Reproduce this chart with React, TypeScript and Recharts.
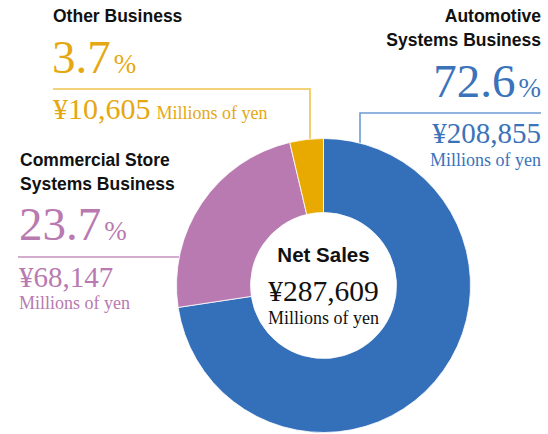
import React from 'react';
import { PieChart, Pie, Cell } from 'recharts';

// segments, clockwise from 12 o'clock
const segments = ['Automotive Systems Business', 'Commercial Store Systems Business', 'Other Business'];
const salesMillions = [208855, 68147, 10605];
const shares = ['72.6', '23.7', '3.7'];
const sliceColors = ['#3470B9', '#B87AB0', '#E8A900'];
const leaderColors = ['#6E9BD2', '#C590BE', '#F0C34F'];
const textColors = ['#3A73BA', '#B87AB0', '#E5A811'];
const totalLabel = 'Net Sales';
const totalSales = 287609;
const unitLabel = 'Millions of yen';

const pieData = segments.map((name, i) => ({ name, value: salesMillions[i] }));

const SANS = '"Liberation Sans", Arial, sans-serif';
const SERIF = '"Liberation Serif", "Times New Roman", serif';
const yen = (v: number) => '¥' + v.toLocaleString('en-US');

function Share({ x, y, i, anchor }: { x: number; y: number; i: number; anchor: 'start' | 'end' }) {
  return (
    <text x={x} y={y} textAnchor={anchor} fontFamily={SERIF} fill={textColors[i]}>
      <tspan fontSize={47}>{shares[i]}</tspan>
      <tspan fontSize={27} dx={3}>%</tspan>
    </text>
  );
}

export default function App() {
  return (
    <div style={{ position: 'absolute', left: 0, top: 0, width: 548, height: 434, background: '#fff' }}>
      {/* labels and leader lines, drawn behind the donut */}
      <svg width={548} height={434} style={{ position: 'absolute', left: 0, top: 0 }}>
        {/* Automotive */}
        <polyline points="541,113 360,113 360,160" fill="none" stroke={leaderColors[0]} strokeWidth={1.6} />
        <text x={541} y={22} textAnchor="end" fontFamily={SANS} fontWeight="bold" fontSize={17.5} fill="#111">Automotive</text>
        <text x={541} y={46} textAnchor="end" fontFamily={SANS} fontWeight="bold" fontSize={17.5} fill="#111">Systems Business</text>
        <Share x={541} y={97} i={0} anchor="end" />
        <text x={541} y={143} textAnchor="end" fontFamily={SERIF} fontSize={29} fill={textColors[0]}>{yen(salesMillions[0])}</text>
        <text x={541} y={166} textAnchor="end" fontFamily={SERIF} fontSize={18} fill={textColors[0]}>{unitLabel}</text>

        {/* Commercial Store */}
        <line x1={18} y1={257} x2={200} y2={257} stroke={leaderColors[1]} strokeWidth={1.6} />
        <text x={20} y={166} fontFamily={SANS} fontWeight="bold" fontSize={17.5} fill="#111">Commercial Store</text>
        <text x={20} y={190} fontFamily={SANS} fontWeight="bold" fontSize={17.5} fill="#111">Systems Business</text>
        <Share x={19} y={240} i={1} anchor="start" />
        <text x={19} y={287} fontFamily={SERIF} fontSize={29} fill={textColors[1]}>{yen(salesMillions[1])}</text>
        <text x={19} y={309} fontFamily={SERIF} fontSize={18} fill={textColors[1]}>{unitLabel}</text>

        {/* Other */}
        <polyline points="53,89 310,89 310,160" fill="none" stroke={leaderColors[2]} strokeWidth={1.6} />
        <text x={53} y={22} fontFamily={SANS} fontWeight="bold" fontSize={17.5} fill="#111">Other Business</text>
        <Share x={52} y={73} i={2} anchor="start" />
        <text x={53} y={119} fontFamily={SERIF} fill={textColors[2]}>
          <tspan fontSize={30}>{yen(salesMillions[2])}</tspan>
          <tspan fontSize={18} dx={6}>{unitLabel}</tspan>
        </text>

        {/* centre */}
        <text x={323.5} y={262} textAnchor="middle" fontFamily={SANS} fontWeight="bold" fontSize={20.5} fill="#111">{totalLabel}</text>
        <text x={323.5} y={301} textAnchor="middle" fontFamily={SERIF} fontSize={29.5} fill="#111">{yen(totalSales)}</text>
        <text x={323.5} y={324} textAnchor="middle" fontFamily={SERIF} fontSize={18} fill="#111">{unitLabel}</text>
      </svg>

      <div style={{ position: 'absolute', left: 0, top: 0 }}>
        <PieChart width={548} height={434} margin={{ top: 0, right: 0, bottom: 0, left: 0 }}>
          <Pie
            data={pieData}
            dataKey="value"
            nameKey="name"
            cx={323.5}
            cy={285.5}
            innerRadius={73}
            outerRadius={147}
            startAngle={90}
            endAngle={-270}
            stroke="#fff"
            strokeWidth={0.8}
            isAnimationActive={false}
          >
            {pieData.map((d, i) => (
              <Cell key={d.name} fill={sliceColors[i]} />
            ))}
          </Pie>
        </PieChart>
      </div>
    </div>
  );
}
